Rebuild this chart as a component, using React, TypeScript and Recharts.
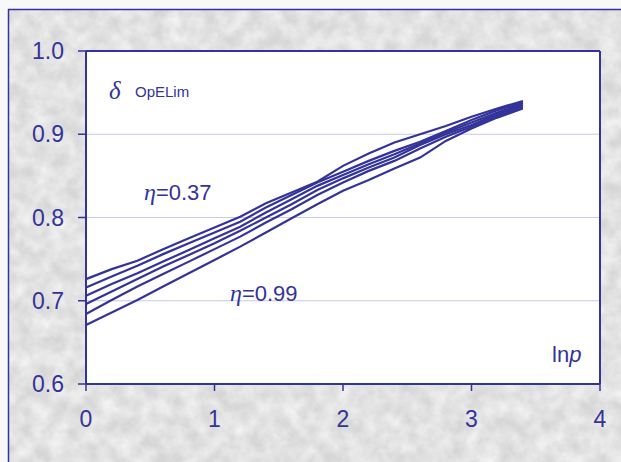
import { CartesianGrid, Line, LineChart, ReferenceLine, XAxis, YAxis } from "recharts";

const NAVY = "#333399";

const lnP = [0, 0.2, 0.4, 0.6, 0.8, 1.0, 1.2, 1.4, 1.6, 1.8, 2.0, 2.2, 2.4, 2.6, 2.8, 3.0, 3.2, 3.4];
// eta = 0.37 (top) ... eta = 0.99 (bottom)
const s1 = [0.726, 0.738, 0.748, 0.762, 0.775, 0.788, 0.801, 0.817, 0.83, 0.843, 0.862, 0.877, 0.89, 0.9, 0.91, 0.921, 0.931, 0.94];
const s2 = [0.716, 0.729, 0.742, 0.756, 0.769, 0.782, 0.795, 0.812, 0.827, 0.842, 0.855, 0.868, 0.88, 0.891, 0.904, 0.917, 0.929, 0.938];
const s3 = [0.706, 0.72, 0.733, 0.747, 0.761, 0.775, 0.789, 0.806, 0.822, 0.838, 0.851, 0.864, 0.876, 0.889, 0.902, 0.914, 0.926, 0.937];
const s4 = [0.696, 0.711, 0.726, 0.741, 0.755, 0.769, 0.784, 0.8, 0.816, 0.833, 0.847, 0.86, 0.872, 0.887, 0.9, 0.911, 0.924, 0.935];
const s5 = [0.684, 0.701, 0.717, 0.732, 0.747, 0.762, 0.777, 0.794, 0.81, 0.827, 0.842, 0.856, 0.868, 0.883, 0.897, 0.909, 0.922, 0.933];
const s6 = [0.671, 0.686, 0.701, 0.717, 0.733, 0.749, 0.765, 0.782, 0.799, 0.816, 0.832, 0.845, 0.859, 0.872, 0.892, 0.907, 0.92, 0.931];

const series = [s1, s2, s3, s4, s5, s6];
const xTicks = [0, 1, 2, 3, 4];
const yTicks = [0.6, 0.7, 0.8, 0.9, 1.0];

const data = lnP.map((x, i) => ({
  x,
  s1: s1[i],
  s2: s2[i],
  s3: s3[i],
  s4: s4[i],
  s5: s5[i],
  s6: s6[i],
}));

const tickStyle = { fill: NAVY, fontSize: 23, fontFamily: "'Liberation Sans', Arial, sans-serif" };

export default function App() {
  return (
    <div style={{ position: "absolute", left: 0, top: 0, width: 621, height: 462, background: "#f8f8f8" }}>
      <svg width={621} height={462} style={{ position: "absolute", left: 0, top: 0 }}>
        <defs>
          <filter id="speckle" x="0" y="0" width="100%" height="100%" colorInterpolationFilters="sRGB">
            <feTurbulence type="fractalNoise" baseFrequency="0.06" numOctaves="4" seed="7" />
            <feColorMatrix type="matrix" values="0 0 0 0 1  0 0 0 0 1  0 0 0 0 1  1.1 0 0 0 -0.25" />
          </filter>
        </defs>
        <rect x={8} y={9} width={613} height={453} fill="#d6d6d6" />
        <rect x={8} y={9} width={613} height={453} filter="url(#speckle)" />
        <line x1={8.5} y1={9} x2={8.5} y2={462} stroke={NAVY} strokeWidth={1.5} />
        <line x1={8} y1={9.5} x2={621} y2={9.5} stroke={NAVY} strokeWidth={1.5} />
      </svg>
      <div style={{ position: "absolute", left: 0, top: 0 }}>
        <LineChart width={621} height={462} data={data} margin={{ top: 51, right: 21, bottom: 0, left: 0 }}>
          <CartesianGrid horizontal vertical={false} stroke="#c8c8f0" fill="#ffffff" />
          <XAxis
            type="number"
            dataKey="x"
            domain={[0, 4]}
            ticks={xTicks}
            height={78}
            axisLine={{ stroke: NAVY, strokeWidth: 2 }}
            tickLine={{ stroke: NAVY, strokeWidth: 1.5 }}
            tickSize={7}
            tickMargin={20}
            tick={tickStyle}
          />
          <YAxis
            type="number"
            domain={[0.6, 1.0]}
            ticks={yTicks}
            width={86}
            axisLine={{ stroke: NAVY, strokeWidth: 2 }}
            tickLine={{ stroke: NAVY, strokeWidth: 1.5 }}
            tickSize={8}
            tickMargin={14}
            tick={tickStyle}
            tickFormatter={(v: number) => v.toFixed(1)}
          />
          <ReferenceLine y={1.0} stroke={NAVY} strokeWidth={2} />
          <ReferenceLine x={4} stroke={NAVY} strokeWidth={2} />
          {series.map((_, i) => (
            <Line
              key={i}
              type="linear"
              dataKey={`s${i + 1}`}
              stroke={NAVY}
              strokeWidth={2.2}
              dot={false}
              isAnimationActive={false}
            />
          ))}
        </LineChart>
      </div>
      <svg width={621} height={462} style={{ position: "absolute", left: 0, top: 0, pointerEvents: "none" }}>
        <g fill={NAVY}>
          <text x={109} y={99} fontSize={25} fontStyle="italic" fontFamily="'Liberation Serif', 'Times New Roman', serif">
            δ
          </text>
          <text x={135} y={97} fontSize={15} fontFamily="'Liberation Sans', Arial, sans-serif">
            OpELim
          </text>
          <text x={144} y={200} fontFamily="'Liberation Sans', Arial, sans-serif" fontSize={22}>
            <tspan fontStyle="italic" fontFamily="'Liberation Serif', 'Times New Roman', serif" fontSize={24}>
              η
            </tspan>
            <tspan>=0.37</tspan>
          </text>
          <text x={230} y={301} fontFamily="'Liberation Sans', Arial, sans-serif" fontSize={22}>
            <tspan fontStyle="italic" fontFamily="'Liberation Serif', 'Times New Roman', serif" fontSize={24}>
              η
            </tspan>
            <tspan>=0.99</tspan>
          </text>
          <text x={552} y={362} fontFamily="'Liberation Sans', Arial, sans-serif" fontSize={22}>
            ln
            <tspan fontStyle="italic">p</tspan>
          </text>
        </g>
      </svg>
    </div>
  );
}
